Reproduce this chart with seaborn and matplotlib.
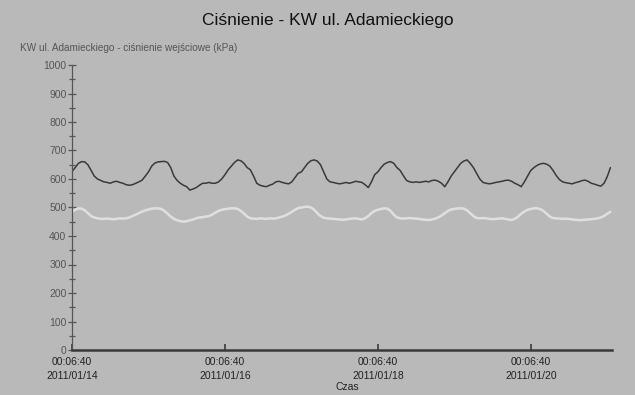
import matplotlib
matplotlib.use("Agg")
import matplotlib.pyplot as plt
from matplotlib.ticker import MultipleLocator
import pandas as pd
import seaborn as sns

# ---------------- data (hourly readings, kPa) ----------------
start_time = "2011-01-14 00:06:40"
title = "Ciśnienie - KW ul. Adamieckiego"
y_label = "KW ul. Adamieckiego - ciśnienie wejściowe (kPa)"
x_label = "Czas"
tick_dates = ["2011-01-14 00:06:40", "2011-01-16 00:06:40",
              "2011-01-18 00:06:40", "2011-01-20 00:06:40"]
tick_labels = ["00:06:40\n2011/01/14", "00:06:40\n2011/01/16",
               "00:06:40\n2011/01/18", "00:06:40\n2011/01/20"]

dark_series = [
    626, 640, 655, 661, 660, 650, 630, 610, 600, 595, 590, 588, 585, 590, 592, 588, 585, 580, 578, 580, 585, 590, 596, 610,
    625, 645, 656, 660, 661, 662, 658, 640, 610, 595, 585, 578, 573, 561, 565, 570, 578, 585, 585, 588, 585, 585, 590, 600,
    615, 632, 645, 658, 667, 664, 655, 640, 632, 610, 585, 578, 575, 573, 578, 582, 590, 592, 588, 585, 583, 590, 605, 620,
    625, 640, 655, 664, 667, 663, 650, 625, 600, 590, 588, 585, 583, 585, 588, 585, 588, 592, 590, 588, 580, 570, 590, 615,
    625, 640, 652, 658, 661, 655, 640, 630, 612, 595, 590, 588, 590, 588, 590, 592, 590, 595, 596, 592, 585, 573, 590, 610,
    625, 640, 655, 663, 667, 655, 640, 620, 600, 588, 585, 583, 585, 588, 590, 592, 595, 596, 592, 585, 580, 573, 590, 610,
    630, 640, 648, 653, 655, 652, 645, 630, 612, 598, 590, 587, 585, 583, 587, 590, 594, 596, 592, 585, 582, 578, 575, 585,
    608, 640,
]
light_series = [
    485, 492, 497, 496, 490, 480, 470, 465, 462, 460, 460, 461, 460, 459, 460, 462, 461, 462, 465, 470, 475, 480, 486, 490,
    493, 496, 497, 497, 495, 488, 478, 468, 460, 455, 452, 450, 452, 455, 458, 462, 465, 466, 468, 470, 475, 482, 488, 492,
    494, 496, 497, 497, 495, 488, 478, 468, 462, 461, 460, 462, 461, 460, 462, 461, 462, 465, 468, 472, 478, 485, 492, 498,
    500, 502, 503, 500, 492, 480, 470, 464, 462, 461, 460, 459, 458, 457, 458, 460, 461, 462, 460, 458, 462, 470, 480, 488,
    492, 495, 497, 496, 488, 475, 465, 462, 461, 462, 463, 462, 461, 460, 458, 457, 456, 458, 461, 465, 472, 480, 488, 493,
    495, 497, 497, 496, 490, 480, 470, 463, 462, 463, 462, 460, 459, 460, 461, 462, 460, 458, 456, 460, 468, 478, 486, 492,
    495, 497, 497, 494, 488, 478, 468, 463, 462, 461, 460, 461, 460, 458, 457, 456, 456, 457, 458, 459, 460, 462, 465, 470,
    478, 485,
]

# ---------------- build tables ----------------
times = pd.date_range(start=start_time, periods=len(dark_series), freq="h")
df_dark = pd.DataFrame({"Czas": times, "kPa": dark_series})
df_light = pd.DataFrame({"Czas": times, "kPa": light_series})

bg = "#b9b9b9"
sns.set_theme(style="white")
plt.rcParams["font.family"] = ["Liberation Sans", "DejaVu Sans"]

fig = plt.figure(figsize=(6.35, 3.95), dpi=100, facecolor=bg)
ax = fig.add_axes([72 / 635, 1 - 350 / 395, (612 - 72) / 635, (350 - 65) / 395])
ax.set_facecolor(bg)

sns.lineplot(data=df_light, x="Czas", y="kPa", color="#e4e4e4",
             linewidth=1.8, alpha=0.9, legend=False, ax=ax)
sns.lineplot(data=df_dark, x="Czas", y="kPa", color="#3a3a3a",
             linewidth=1.1, legend=False, ax=ax)

ax.set_ylim(0, 1000)
ax.set_xlim(times[0], pd.Timestamp(start_time) + pd.Timedelta(hours=169.5))
ax.yaxis.set_major_locator(MultipleLocator(100))
ax.yaxis.set_minor_locator(MultipleLocator(50))
ax.set_xticks(pd.to_datetime(tick_dates))
ax.set_xticklabels(tick_labels, linespacing=1.45)

for s in ["top", "right"]:
    ax.spines[s].set_visible(False)
ax.spines["left"].set_color("#555555")
ax.spines["left"].set_linewidth(0.9)
ax.spines["bottom"].set_color("#3a3a3a")
ax.spines["bottom"].set_linewidth(1.8)

ax.tick_params(axis="y", which="major", direction="inout", length=6, width=0.9,
               color="#555555", labelsize=7.5, labelcolor="#555555", pad=1, left=True)
ax.tick_params(axis="y", which="minor", direction="inout", length=4, width=0.9,
               color="#555555", left=True)
ax.tick_params(axis="x", which="major", direction="in", length=4, width=1.2,
               color="#3a3a3a", labelsize=7.5, labelcolor="#222222", pad=5, bottom=True)

ax.set_xlabel("")
ax.set_ylabel("")
fig.text(20 / 635, 1 - 48 / 395, y_label, fontsize=7.2, color="#555555",
         ha="left", va="center")
fig.text(328 / 635, 1 - 21 / 395, title, fontsize=12.5, color="#111111",
         ha="center", va="center")
fig.text(347 / 635, 1 - 387 / 395, x_label, fontsize=7.5, color="#222222",
         ha="center", va="center")

fig.savefig("out.png", dpi=100, facecolor=bg)
